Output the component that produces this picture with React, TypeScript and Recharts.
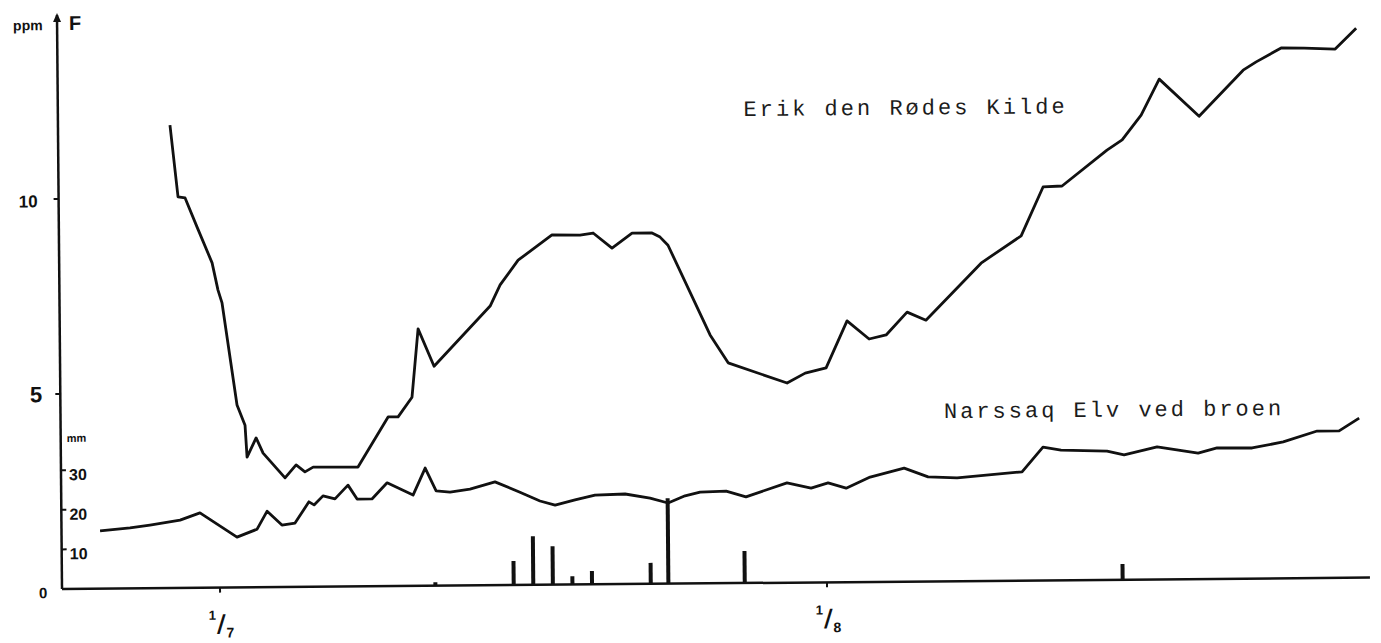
import React from 'react';
import { ComposedChart, Line, Bar, XAxis, YAxis, ReferenceDot } from 'recharts';

// Days counted from 1 July; fluoride in ppm F
const erikDays = [
  -2.35, -1.97, -1.61, -1.01, -0.26, 0.03, 0.23, 0.95, 1.35, 1.44, 1.91, 2.26, 3.37, 3.94, 4.39, 4.81,
  7.1, 8.66, 9.17, 9.89, 10.23, 11.03, 13.92, 14.44, 15.37, 17.11, 18.54, 19.21, 20.17, 21.2, 22.22,
  22.63, 23.03, 25.14, 26.05, 29.05, 29.98, 31.05, 32.14, 33.26, 34.13, 35.21, 36.17, 39.01, 39.63,
  41.07, 42.21, 43.18, 45.49, 46.27, 47.25, 48.19, 50.21, 52.48, 53.15, 54.43, 55.61, 57.19, 58.27,
];
const erikPpm = [
  11.87, 10.03, 10.0, 9.25, 8.33, 7.63, 7.3, 4.68, 4.16, 3.34, 3.83, 3.44, 2.8, 3.13, 2.95, 3.07,
  3.06, 4.34, 4.34, 4.84, 6.59, 5.63, 7.16, 7.7, 8.33, 8.97, 8.96, 9.01, 8.62, 9.0, 9.0,
  8.89, 8.68, 6.37, 5.65, 5.12, 5.37, 5.5, 6.7, 6.23, 6.33, 6.91, 6.7, 8.15, 8.36,
  8.84, 10.09, 10.11, 11.02, 11.28, 11.91, 12.83, 11.87, 13.04, 13.25, 13.6, 13.59, 13.56, 14.09,
];

const narssaqDays = [
  -6.1, -4.57, -3.55, -2.01, -0.99, 0.89, 1.92, 2.44, 3.19, 3.86, 4.58, 4.84, 5.3, 5.91, 6.58,
  7.04, 7.8, 8.58, 9.9, 10.53, 11.08, 11.79, 12.81, 14.09, 15.36, 16.38, 17.15, 18.17, 19.19,
  20.73, 22.0, 22.92, 23.79, 24.56, 25.89, 26.9, 29.0, 30.23, 31.1, 32.02, 33.25, 34.99, 36.21,
  37.69, 41.01, 42.09, 43.01, 45.36, 46.23, 47.92, 50.01, 50.98, 52.77, 54.36, 56.1, 57.22, 58.25,
];
const narssaqPpm = [
  1.48, 1.55, 1.62, 1.74, 1.92, 1.29, 1.49, 1.95, 1.59, 1.64, 2.18, 2.1, 2.33, 2.25, 2.6,
  2.24, 2.24, 2.65, 2.33, 3.02, 2.43, 2.4, 2.47, 2.65, 2.38, 2.15, 2.04, 2.17, 2.29,
  2.31, 2.2, 2.07, 2.25, 2.34, 2.36, 2.21, 2.56, 2.42, 2.55, 2.41, 2.69, 2.91, 2.68,
  2.65, 2.79, 3.42, 3.34, 3.3, 3.2, 3.4, 3.23, 3.36, 3.35, 3.5, 3.77, 3.77, 4.09,
];

// Daily precipitation, mm
const rainDays = [11, 15, 16, 17, 18, 19, 22, 22.9, 26.8, 46.1];
const rainMm = [0.9, 6.1, 12.3, 9.7, 2.1, 3.4, 5.3, 21.6, 8.1, 4.0];

const dateTicks = [0, 31];
const dateMonths = ['7', '8'];
const ppmTicks = [0, 5, 10];
const mmTicks = [10, 20, 30];

const erikRows = erikDays.map((day, i) => ({ day, ppm: erikPpm[i] }));
const narssaqRows = narssaqDays.map((day, i) => ({ day, ppm: narssaqPpm[i] }));
const rainRows = rainDays.map((day, i) => ({ day, mm: rainMm[i] }));

const INK = '#111';
const HAND = '"Liberation Sans", Arial, sans-serif';
const TYPE = '"Liberation Mono", "Courier New", monospace';

function DateTick(props: any) {
  const { x, y, payload } = props;
  const month = dateMonths[dateTicks.indexOf(payload.value)];
  const t = { fontFamily: HAND, fontWeight: 'bold' as const, fill: INK, textAnchor: 'middle' as const };
  return (
    <g>
      <line x1={x} y1={y} x2={x} y2={y + 5} stroke={INK} strokeWidth={2} />
      <text {...t} x={x - 8} y={y + 32} fontSize={13}>1</text>
      <text {...t} x={x + 1} y={y + 44} fontSize={24} fontFamily='"DejaVu Sans", sans-serif'>/</text>
      <text {...t} x={x + 10} y={y + 50} fontSize={14}>{month}</text>
    </g>
  );
}

function PpmTick(props: any) {
  const { x, y, payload } = props;
  const v = payload.value;
  const t = { fontFamily: HAND, fontWeight: 'bold' as const, fill: INK };
  if (v === 0) {
    return <text {...t} x={x - 19} y={y + 9} fontSize={15} textAnchor="middle">0</text>;
  }
  return (
    <g>
      <line x1={x - 5} y1={y} x2={x} y2={y} stroke={INK} strokeWidth={2} />
      <text {...t} x={x - (v === 5 ? 18 : 21)} y={y + 8} fontSize={v === 5 ? 22 : 17} textAnchor="end">
        {v}
      </text>
    </g>
  );
}

function MmTick(props: any) {
  const { x, y, payload } = props;
  return (
    <g>
      <line x1={x} y1={y} x2={x + 5} y2={y} stroke={INK} strokeWidth={2} />
      <text x={x + 8} y={y + 10} fontFamily={HAND} fontWeight="bold" fontSize={16} fill={INK} textAnchor="start">
        {payload.value}
      </text>
    </g>
  );
}

function PpmAxisHead(props: any) {
  const { viewBox } = props;
  const ax = viewBox.x + viewBox.width;
  const top = viewBox.y;
  return (
    <g>
      <polygon points={`${ax},${top - 2} ${ax - 4},${top + 7} ${ax + 4},${top + 7}`} fill={INK} />
      <text x={ax + 12} y={top + 15} fontFamily={HAND} fontWeight="bold" fontSize={20} fill={INK}>F</text>
      <text x={ax - 44} y={top + 15} fontFamily={HAND} fontWeight="bold" fontSize={14} fill={INK}>ppm</text>
    </g>
  );
}

function MmAxisHead(props: any) {
  const { viewBox } = props;
  return (
    <text x={viewBox.x + 6} y={viewBox.y + viewBox.height - 147} fontFamily={HAND} fontWeight="bold" fontSize={11} fill={INK}>
      mm
    </text>
  );
}

const seriesName = (name: string) => (props: any) => (
  <text
    x={props.viewBox.x}
    y={props.viewBox.y}
    fontFamily={TYPE}
    fontSize={22}
    letterSpacing={3}
    fill="#1c1c1c"
  >
    {name}
  </text>
);

const RainBar = (p: any) => (
  <rect x={p.x + p.width / 2 - 2} y={p.y} width={4} height={p.height} fill={INK} />
);

export default function App() {
  return (
    <div
      style={{
        position: 'absolute',
        left: 0,
        top: 0,
        width: 1381,
        height: 643,
        background: '#fff',
        transform: 'rotate(-0.5deg)',
        transformOrigin: '62px 589px',
      }}
    >
      <ComposedChart width={1381} height={643} data={rainRows} margin={{ top: 15, right: 11, bottom: 24, left: 12 }}>
        <XAxis
          type="number"
          dataKey="day"
          domain={[-8.07, 58.73]}
          ticks={dateTicks}
          interval={0}
          height={30}
          tick={<DateTick />}
          tickLine={false}
          tickSize={0}
          tickMargin={0}
          axisLine={{ stroke: INK, strokeWidth: 2.5 }}
        />
        <YAxis
          yAxisId="ppm"
          type="number"
          domain={[0, 14.72]}
          ticks={ppmTicks}
          interval={0}
          width={50}
          tick={<PpmTick />}
          tickLine={false}
          tickSize={0}
          tickMargin={0}
          axisLine={{ stroke: INK, strokeWidth: 2.5 }}
          label={PpmAxisHead}
        />
        <YAxis
          yAxisId="mm"
          type="number"
          mirror
          domain={[0, 145]}
          ticks={mmTicks}
          interval={0}
          tick={<MmTick />}
          tickLine={false}
          tickSize={0}
          tickMargin={0}
          axisLine={false}
          label={MmAxisHead}
        />
        <Bar yAxisId="mm" dataKey="mm" barSize={4} fill={INK} shape={RainBar} isAnimationActive={false} />
        <Line
          yAxisId="ppm"
          data={narssaqRows}
          dataKey="ppm"
          type="linear"
          stroke={INK}
          strokeWidth={2.8}
          strokeLinejoin="round"
          dot={false}
          activeDot={false}
          isAnimationActive={false}
        />
        <Line
          yAxisId="ppm"
          data={erikRows}
          dataKey="ppm"
          type="linear"
          stroke={INK}
          strokeWidth={2.8}
          strokeLinejoin="round"
          dot={false}
          activeDot={false}
          isAnimationActive={false}
        />
        <ReferenceDot yAxisId="ppm" x={27.0} y={11.95} r={1} fill="none" stroke="none" label={seriesName('Erik den Rødes Kilde')} />
        <ReferenceDot yAxisId="ppm" x={37.1} y={4.16} r={1} fill="none" stroke="none" label={seriesName('Narssaq Elv ved broen')} />
      </ComposedChart>
    </div>
  );
}
